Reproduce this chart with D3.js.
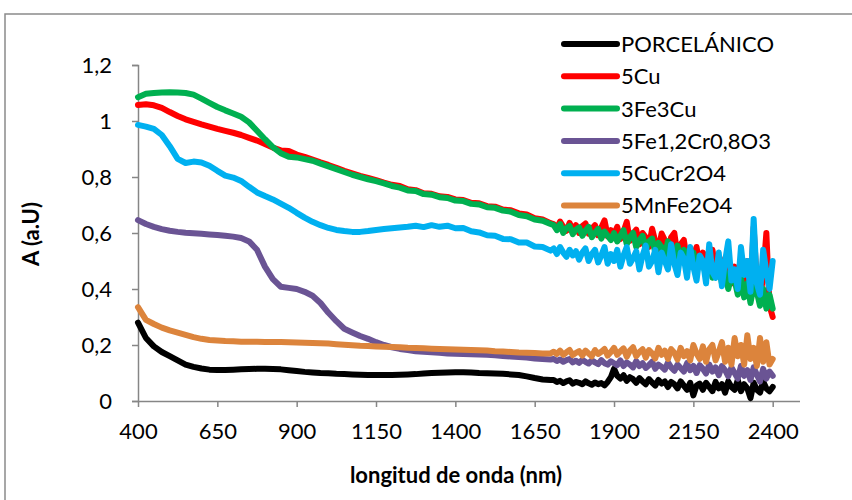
<!DOCTYPE html>
<html><head><meta charset="utf-8">
<script src="https://cdn.jsdelivr.net/npm/d3@7"></script>
<style>body{margin:0;background:#fff}svg{display:block}</style>
</head><body>
<script>
// wavelengths: 400..1700 step 25, then 1710..2400 step 10
const wavelengths = [];
for (let w = 400; w <= 1700; w += 25) wavelengths.push(w);
for (let w = 1710; w <= 2400; w += 10) wavelengths.push(w);

const seriesNames = ["PORCELÁNICO","5Cu","3Fe3Cu","5Fe1,2Cr0,8O3","5CuCr2O4","5MnFe2O4"];
const seriesColors = ["#000000","#ff0000","#00b050","#6a5494","#00b0f0","#dc843c"];
const xTicks = [400,650,900,1150,1400,1650,1900,2150,2400];
const yTicks = [0,0.2,0.4,0.6,0.8,1,1.2];

const porcelanico = [
0.28,0.225,0.195,0.175,0.16,0.145,0.13,0.122,0.116,0.112,0.111,0.111,0.112,0.113,0.114,0.115,0.115,0.114,0.113,0.11,0.107,0.104,0.102,0.1,0.099,0.097,0.096,0.095,0.094,0.093,0.093,0.093,0.093,0.094,0.095,0.096,0.098,0.1,0.101,0.102,0.103,0.103,0.102,0.1,0.099,0.098,0.097,0.095,0.093,0.088,0.082,0.077,0.075,
0.075,0.068,0.072,0.064,0.07,0.074,0.062,0.068,0.065,0.06,0.07,0.063,0.058,0.066,0.06,0.064,0.056,0.068,0.085,
0.115,0.09,0.08,0.092,0.072,0.085,0.078,0.065,0.082,0.07,0.06,0.078,0.066,0.055,0.075,0.062,0.07,0.05,0.068,0.06,0.045,0.07,0.055,0.04,0.065,0.02,0.055,0.062,0.04,0.065,0.05,0.035,0.068,0.045,0.06,0.03,0.07,0.05,0.04,0.075,0.035,0.06,0.045,0.01,0.065,0.04,0.03,0.07,0.045,0.035,0.05];

const cu5 = [
1.057,1.06,1.056,1.047,1.032,1.018,1.006,0.997,0.988,0.98,0.972,0.965,0.958,0.95,0.94,0.93,0.918,0.905,0.895,0.893,0.88,0.872,0.862,0.852,0.843,0.833,0.822,0.813,0.804,0.797,0.789,0.78,0.772,0.768,0.756,0.753,0.742,0.74,0.731,0.729,0.72,0.718,0.708,0.706,0.696,0.694,0.684,0.681,0.67,0.666,0.653,0.648,0.635,
0.632,0.615,0.641,0.622,0.608,0.636,0.612,0.628,0.6,0.625,0.634,0.598,0.615,0.628,0.592,0.62,0.645,0.588,0.61,
0.595,0.622,0.578,0.605,0.64,0.572,0.598,0.612,0.56,0.6,0.585,0.55,0.615,0.57,0.54,0.598,0.575,0.53,0.585,0.6,0.52,0.56,0.575,0.5,0.545,0.51,0.55,0.48,0.53,0.505,0.46,0.54,0.47,0.49,0.44,0.51,0.45,0.42,0.48,0.43,0.46,0.4,0.5,0.38,0.62,0.42,0.36,0.45,0.6,0.34,0.3];

const fe3cu3 = [
1.085,1.097,1.1,1.102,1.103,1.102,1.1,1.094,1.08,1.065,1.05,1.038,1.027,1.015,0.995,0.965,0.935,0.907,0.885,0.872,0.87,0.864,0.858,0.848,0.838,0.828,0.818,0.808,0.8,0.792,0.785,0.777,0.768,0.762,0.752,0.75,0.739,0.737,0.728,0.725,0.716,0.714,0.704,0.702,0.692,0.69,0.68,0.676,0.664,0.66,0.648,0.644,0.632,
0.628,0.61,0.632,0.6,0.618,0.625,0.596,0.612,0.62,0.59,0.608,0.622,0.585,0.6,0.615,0.58,0.605,0.59,0.575,
0.6,0.57,0.59,0.61,0.56,0.585,0.6,0.55,0.575,0.59,0.54,0.57,0.58,0.53,0.565,0.55,0.52,0.57,0.54,0.51,0.555,0.5,0.54,0.525,0.48,0.53,0.46,0.515,0.49,0.45,0.5,0.44,0.47,0.48,0.42,0.46,0.4,0.45,0.43,0.38,0.44,0.37,0.42,0.35,0.41,0.39,0.34,0.4,0.33,0.38,0.33];

const fe12cr08 = [
0.646,0.632,0.622,0.614,0.608,0.604,0.601,0.599,0.597,0.595,0.593,0.59,0.587,0.582,0.57,0.54,0.48,0.435,0.408,0.404,0.4,0.39,0.376,0.35,0.315,0.285,0.258,0.245,0.232,0.222,0.21,0.2,0.192,0.186,0.182,0.178,0.176,0.174,0.172,0.17,0.169,0.168,0.167,0.166,0.165,0.163,0.161,0.159,0.157,0.155,0.152,0.15,0.148,
0.15,0.143,0.148,0.14,0.146,0.15,0.138,0.144,0.136,0.147,0.14,0.134,0.145,0.138,0.132,0.146,0.135,0.13,0.142,
0.135,0.128,0.145,0.125,0.138,0.13,0.12,0.142,0.125,0.135,0.118,0.128,0.14,0.115,0.13,0.122,0.112,0.138,0.12,0.108,0.13,0.118,0.105,0.135,0.11,0.125,0.1,0.128,0.115,0.098,0.13,0.105,0.12,0.092,0.125,0.11,0.088,0.12,0.1,0.08,0.125,0.09,0.11,0.075,0.12,0.095,0.07,0.115,0.08,0.105,0.09];

const cucr2o4 = [
0.986,0.98,0.972,0.95,0.91,0.865,0.85,0.855,0.852,0.84,0.822,0.805,0.798,0.786,0.765,0.745,0.732,0.72,0.705,0.69,0.672,0.655,0.64,0.628,0.618,0.611,0.607,0.604,0.604,0.607,0.611,0.614,0.617,0.62,0.622,0.626,0.621,0.628,0.622,0.626,0.617,0.618,0.606,0.602,0.592,0.59,0.579,0.578,0.566,0.566,0.552,0.55,0.537,
0.545,0.525,0.55,0.53,0.515,0.54,0.52,0.535,0.505,0.53,0.545,0.5,0.525,0.54,0.495,0.52,0.55,0.49,0.525,
0.5,0.54,0.48,0.52,0.55,0.49,0.51,0.535,0.47,0.52,0.555,0.48,0.5,0.54,0.46,0.53,0.5,0.47,0.56,0.49,0.45,0.53,0.51,0.44,0.55,0.48,0.43,0.52,0.5,0.42,0.56,0.46,0.44,0.53,0.41,0.5,0.57,0.43,0.47,0.4,0.55,0.45,0.5,0.39,0.65,0.42,0.38,0.54,0.46,0.4,0.5];

const mnfe2o4 = [
0.335,0.29,0.275,0.262,0.252,0.244,0.236,0.228,0.222,0.218,0.216,0.214,0.213,0.212,0.212,0.212,0.211,0.211,0.211,0.21,0.209,0.208,0.207,0.206,0.205,0.203,0.201,0.199,0.197,0.196,0.195,0.194,0.193,0.192,0.19,0.189,0.188,0.187,0.186,0.185,0.184,0.183,0.182,0.181,0.18,0.178,0.177,0.175,0.173,0.172,0.171,0.17,0.17,
0.176,0.168,0.18,0.165,0.174,0.182,0.164,0.172,0.178,0.162,0.18,0.17,0.16,0.182,0.168,0.176,0.186,0.162,0.175,
0.19,0.165,0.178,0.188,0.158,0.18,0.192,0.16,0.175,0.185,0.155,0.182,0.17,0.152,0.19,0.165,0.18,0.15,0.185,0.172,0.148,0.19,0.16,0.178,0.145,0.2,0.17,0.15,0.195,0.14,0.185,0.2,0.145,0.175,0.21,0.14,0.19,0.13,0.225,0.16,0.2,0.13,0.235,0.15,0.19,0.125,0.225,0.14,0.21,0.13,0.15];

const seriesValues = [porcelanico, cu5, fe3cu3, fe12cr08, cucr2o4, mnfe2o4];

const W = 852, H = 500;
const svg = d3.select("body").append("svg").attr("width", W).attr("height", H);
const FONT = "Lato, 'Open Sans', sans-serif";

svg.append("rect").attr("x",5).attr("y",14).attr("width",900).attr("height",600)
  .attr("fill","none").attr("stroke","#8a8a8a").attr("stroke-width",1.5);

const x = d3.scaleLinear().domain([400,2400]).range([138,772.7]);
const y = d3.scaleLinear().domain([0,1.2]).range([401,65]);

const axisColor = "#868686";
const gx = svg.append("g").attr("transform","translate(0,401)")
  .call(d3.axisBottom(x).tickValues(xTicks).tickSize(6).tickPadding(16).tickFormat(d3.format("d")));
const gy = svg.append("g").attr("transform","translate(138,0)")
  .call(d3.axisLeft(y).tickValues(yTicks).tickSize(6).tickPadding(20)
    .tickFormat(d => String(+d.toFixed(1)).replace(".", ",")));
[gx, gy].forEach(g => {
  g.select(".domain").attr("stroke", axisColor).attr("stroke-width",1.5);
  g.selectAll(".tick line").attr("stroke", axisColor).attr("stroke-width",1.5);
  g.selectAll(".tick text").attr("fill","#000").style("font-family",FONT).style("font-size","22px");
});
gx.select(".domain").attr("d","M138,0.5H800");

const line = d3.line().x((d,i) => x(wavelengths[i])).y(d => y(d));
const n = wavelengths.length;
seriesValues.forEach((vals, k) => {
  svg.append("path").datum(vals.slice(0, n))
    .attr("d", line).attr("fill","none")
    .attr("stroke", seriesColors[k]).attr("stroke-width",6)
    .attr("stroke-linejoin","round").attr("stroke-linecap","round");
});

// legend
const lg = svg.append("g");
seriesNames.forEach((name, i) => {
  const cy = 44 + 32.3*i;
  lg.append("line").attr("x1",564).attr("x2",617).attr("y1",cy).attr("y2",cy)
    .attr("stroke", seriesColors[i]).attr("stroke-width",6).attr("stroke-linecap","round");
  lg.append("text").attr("x",621).attr("y",cy).attr("dy","0.36em")
    .style("font-family",FONT).style("font-size","22px").text(name);
});

svg.append("text").attr("transform","translate(39,234) rotate(-90)")
  .attr("text-anchor","middle").style("font-family",FONT).style("font-size","22px")
  .style("font-weight","bold").text("A (a.U)");
svg.append("text").attr("x",456).attr("y",483).attr("text-anchor","middle")
  .style("font-family",FONT).style("font-size","22px").style("font-weight","bold")
  .text("longitud de onda (nm)");
</script>
</body></html>
